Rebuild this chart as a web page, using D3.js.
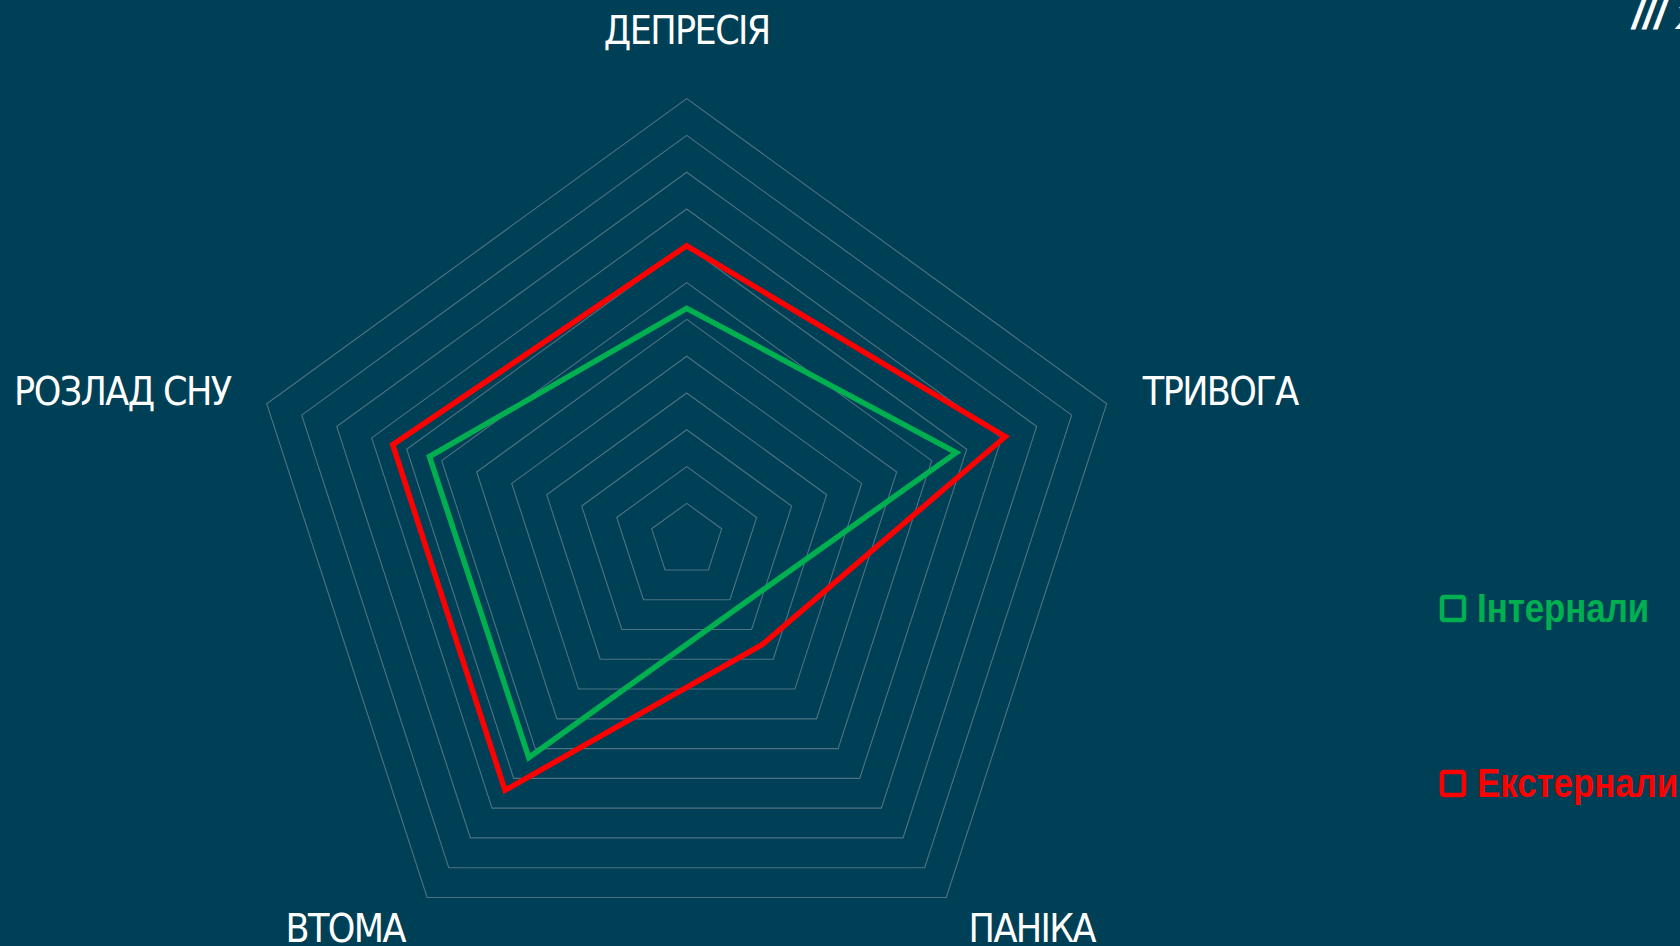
<!DOCTYPE html>
<html>
<head>
<meta charset="utf-8">
<script src="https://cdn.jsdelivr.net/npm/d3@7"></script>
<style>
  html, body { margin: 0; padding: 0; background: #004056; overflow: hidden; }
  svg { display: block; }
</style>
</head>
<body>
<div id="radar"></div>
<script>
var axes = ['ДЕПРЕСІЯ', 'ТРИВОГА', 'ПАНІКА', 'ВТОМА', 'РОЗЛАД СНУ']
var seriesNames = ['Інтернали', 'Екстернали']
var internals = [6.3, 7.7, 2.3, 7.3, 7.35]
var externals = [8.0, 9.1, 3.5, 8.4, 8.4]
var gridLevels = [1, 2, 3, 4, 5, 6, 7, 8, 9, 10, 11, 12]

;(function() {
  var
    WIDTH = 1680,
    HEIGHT = 946,
    CX = 686.7,
    CY = 540.2,
    RADIUS = 441.6,
    LABEL_GAP = 38,
    COLORS = ['#00b050', '#ff0000']

  var svg = d3.select('#radar').append('svg')
    .attr('width', WIDTH)
    .attr('height', HEIGHT)
    .style('background', '#004056')

  var r = d3.scaleLinear().domain([0, d3.max(gridLevels)]).range([0, RADIUS])
  var angle = d3.scalePoint().domain(axes).range([0, 2 * Math.PI * (axes.length - 1) / axes.length])

  var radial = d3.lineRadial()
    .angle(function(d) { return d[0] })
    .radius(function(d) { return r(d[1]) })
    .curve(d3.curveLinearClosed)

  var g = svg.append('g').attr('transform', 'translate(' + CX + ',' + CY + ')')

  // grid rings
  g.append('g').selectAll('path')
    .data(gridLevels)
    .enter()
    .append('path')
    .attr('d', function(lv) { return radial(axes.map(function(a) { return [angle(a), lv] })) })
    .attr('fill', 'none')
    .attr('stroke', '#4d7283')
    .attr('stroke-width', 1.1)

  // series
  g.append('g').selectAll('path')
    .data([internals, externals])
    .enter()
    .append('path')
    .attr('d', function(vals) { return radial(axes.map(function(a, i) { return [angle(a), vals[i]] })) })
    .attr('fill', 'none')
    .attr('stroke', function(d, i) { return COLORS[i] })
    .attr('stroke-width', 5.5)
    .attr('stroke-linejoin', 'miter')

  // axis labels
  g.append('g').selectAll('text')
    .data(axes)
    .enter()
    .append('text')
    .text(function(d) { return d })
    .each(function(d) {
      var a = angle(d),
        s = Math.sin(a), c = -Math.cos(a),
        x = s * (RADIUS + LABEL_GAP),
        y = c * (RADIUS + LABEL_GAP)
      if (c < -0.9) y -= 30
      d3.select(this)
        .attr('x', x)
        .attr('y', y)
        .attr('text-anchor', Math.abs(s) < 0.1 ? 'middle' : (s > 0 ? 'start' : 'end'))
    })
    .attr('dominant-baseline', 'central')
    .attr('fill', 'white')
    .attr('font-family', '"DejaVu Sans Condensed", "DejaVu Sans", sans-serif')
    .attr('font-size', 39)
    .attr('letter-spacing', -1.6)

  // legend
  var legend = svg.append('g').selectAll('g')
    .data(seriesNames)
    .enter()
    .append('g')
    .attr('transform', function(d, i) { return 'translate(1440,' + (595 + i * 175) + ')' })

  legend.append('rect')
    .attr('x', 2).attr('y', 2)
    .attr('width', 22).attr('height', 23)
    .attr('rx', 2)
    .attr('fill', 'none')
    .attr('stroke', function(d, i) { return COLORS[i] })
    .attr('stroke-width', 4.5)

  // no narrow face installed, so squeeze the bold sans a bit
  legend.append('text')
    .text(function(d) { return d })
    .attr('transform', 'translate(37,27) scale(0.87,1)')
    .attr('fill', function(d, i) { return COLORS[i] })
    .attr('font-family', '"Liberation Sans Narrow", "Arial Narrow", "Liberation Sans", sans-serif')
    .attr('font-weight', 'bold')
    .attr('font-size', 40)

  // cut-off corner tag
  svg.append('text')
    .text('/// х')
    .attr('x', 1632)
    .attr('y', 29)
    .attr('fill', 'white')
    .attr('font-family', '"Liberation Sans", sans-serif')
    .attr('font-weight', 'bold')
    .attr('font-style', 'italic')
    .attr('font-size', 40)
})()
</script>
</body>
</html>
